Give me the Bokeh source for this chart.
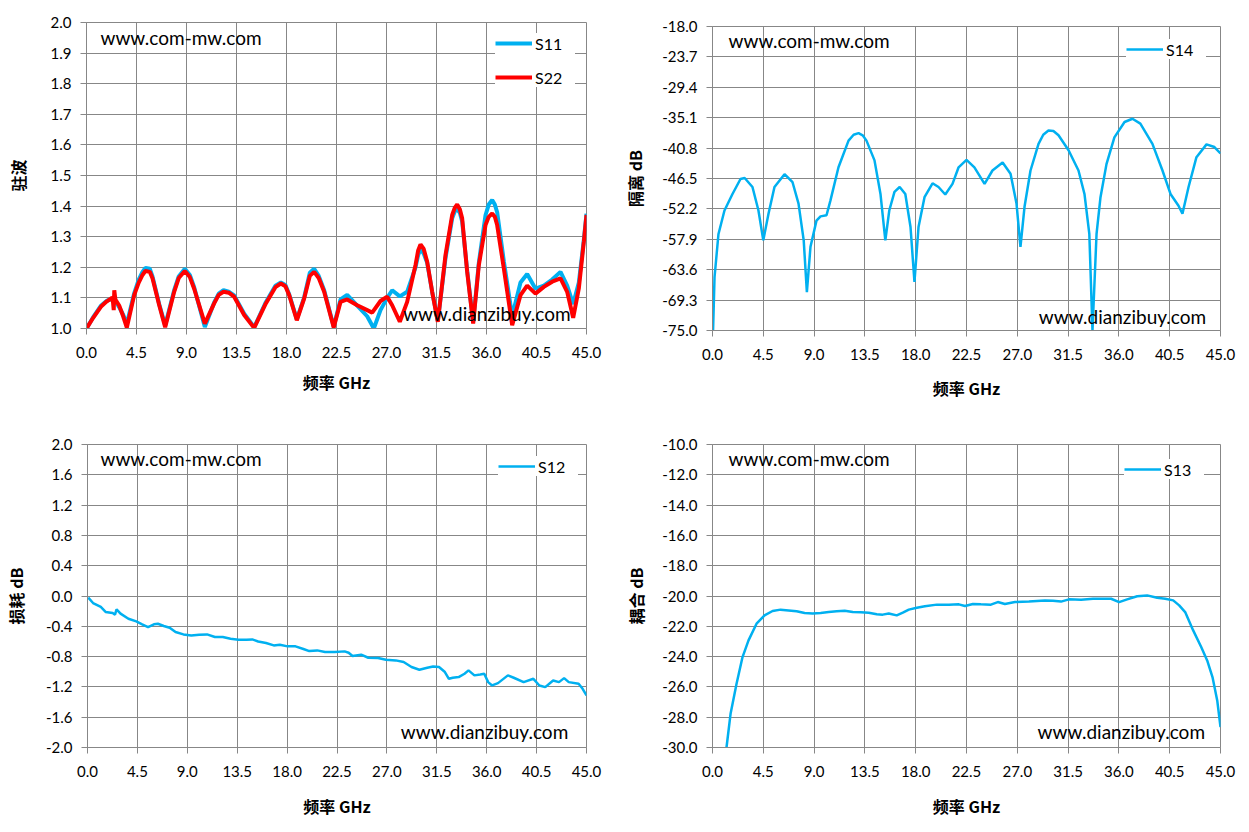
from bokeh.plotting import figure
from bokeh.layouts import row, column
from bokeh.models import FixedTicker, Legend, LegendItem, Label, Spacer
from bokeh.embed import file_html
from bokeh.resources import INLINE

# ---------------- data ----------------
x_ticks = [0.0, 4.5, 9.0, 13.5, 18.0, 22.5, 27.0, 31.5, 36.0, 40.5, 45.0]
x_tick_labels = ["0.0", "4.5", "9.0", "13.5", "18.0", "22.5", "27.0", "31.5", "36.0", "40.5", "45.0"]

vswr_ticks = [1.0, 1.1, 1.2, 1.3, 1.4, 1.5, 1.6, 1.7, 1.8, 1.9, 2.0]
vswr_tick_labels = ["1.0", "1.1", "1.2", "1.3", "1.4", "1.5", "1.6", "1.7", "1.8", "1.9", "2.0"]

iso_ticks = [-75.0, -69.3, -63.6, -57.9, -52.2, -46.5, -40.8, -35.1, -29.4, -23.7, -18.0]
iso_tick_labels = ["-75.0", "-69.3", "-63.6", "-57.9", "-52.2", "-46.5", "-40.8", "-35.1", "-29.4", "-23.7", "-18.0"]

loss_ticks = [-2.0, -1.6, -1.2, -0.8, -0.4, 0.0, 0.4, 0.8, 1.2, 1.6, 2.0]
loss_tick_labels = ["-2.0", "-1.6", "-1.2", "-0.8", "-0.4", "0.0", "0.4", "0.8", "1.2", "1.6", "2.0"]

cpl_ticks = [-30.0, -28.0, -26.0, -24.0, -22.0, -20.0, -18.0, -16.0, -14.0, -12.0, -10.0]
cpl_tick_labels = ["-30.0", "-28.0", "-26.0", "-24.0", "-22.0", "-20.0", "-18.0", "-16.0", "-14.0", "-12.0", "-10.0"]

s11_freq = [0.0, 0.6, 1.29, 1.8, 2.19, 2.6, 2.94, 3.3, 3.63, 4.29,
            4.7, 5.04, 5.3, 5.7, 5.94, 6.54, 7.08, 7.89, 8.3, 8.85,
            9.3, 9.69, 10.65, 11.49, 11.9, 12.33, 12.8, 13.29, 14.19, 15.09,
            16.14, 17.0, 17.49, 17.9, 18.24, 18.93, 19.59, 20.1, 20.49, 20.9,
            21.39, 22.25, 22.86, 23.46, 24.36, 25.26, 25.86, 26.46, 27.06, 27.51,
            28.2, 28.86, 29.61, 29.85, 30.06, 30.35, 30.66, 31.11, 31.62, 32.31,
            32.91, 33.15, 33.36, 33.6, 33.81, 34.26, 34.8, 35.31, 35.91, 36.2,
            36.51, 36.75, 36.96, 37.56, 38.31, 39.06, 39.66, 40.41, 41.16, 41.91,
            42.66, 43.26, 43.8, 44.31, 44.76, 45.0]
s11_vswr = [1.0, 1.037, 1.074, 1.09, 1.096, 1.09, 1.07, 1.045, 1.015, 1.115,
            1.16, 1.185, 1.198, 1.195, 1.17, 1.08, 1.01, 1.125, 1.17, 1.195,
            1.175, 1.135, 1.005, 1.085, 1.114, 1.125, 1.12, 1.108, 1.048, 1.004,
            1.086, 1.14, 1.15, 1.142, 1.112, 1.03, 1.102, 1.182, 1.195, 1.172,
            1.125, 1.006, 1.095, 1.11, 1.075, 1.04, 1.0, 1.06, 1.10, 1.125,
            1.105, 1.12, 1.2, 1.24, 1.258, 1.245, 1.215, 1.12, 1.025, 1.23,
            1.36, 1.383, 1.39, 1.378, 1.35, 1.19, 1.02, 1.215, 1.37, 1.405,
            1.42, 1.405, 1.38, 1.22, 1.04, 1.15, 1.178, 1.13, 1.14, 1.16,
            1.185, 1.14, 1.08, 1.15, 1.29, 1.375]

s22_freq = [0.0, 0.6, 1.29, 1.8, 2.19, 2.35, 2.45, 2.5, 2.6, 2.94,
            3.3, 3.63, 4.29, 4.7, 5.04, 5.3, 5.7, 5.94, 6.54, 7.08,
            7.89, 8.3, 8.85, 9.3, 9.69, 10.65, 11.49, 11.9, 12.33, 12.8,
            13.29, 14.19, 15.09, 16.14, 17.0, 17.49, 17.9, 18.24, 18.93, 19.59,
            20.1, 20.49, 20.9, 21.39, 22.25, 22.86, 23.46, 24.36, 25.26, 25.71,
            26.46, 27.06, 27.51, 28.2, 28.86, 29.61, 29.85, 30.06, 30.35, 30.66,
            31.11, 31.62, 32.31, 32.91, 33.15, 33.36, 33.6, 33.81, 34.26, 34.8,
            35.31, 35.91, 36.2, 36.51, 36.75, 36.96, 37.56, 38.31, 39.06, 39.66,
            40.41, 41.16, 41.91, 42.66, 43.26, 43.8, 44.31, 44.76, 45.0]
s22_vswr = [1.0, 1.035, 1.071, 1.088, 1.098, 1.10, 1.06, 1.125, 1.095, 1.075,
            1.04, 1.003, 1.109, 1.15, 1.175, 1.188, 1.185, 1.164, 1.077, 1.004,
            1.12, 1.165, 1.188, 1.168, 1.13, 1.016, 1.082, 1.11, 1.12, 1.117,
            1.104, 1.044, 1.002, 1.082, 1.135, 1.147, 1.138, 1.109, 1.027, 1.098,
            1.172, 1.185, 1.165, 1.12, 1.003, 1.087, 1.095, 1.076, 1.06, 1.052,
            1.09, 1.104, 1.076, 1.022, 1.087, 1.207, 1.255, 1.275, 1.26, 1.218,
            1.12, 1.022, 1.24, 1.371, 1.395, 1.405, 1.39, 1.36, 1.185, 1.016,
            1.207, 1.338, 1.365, 1.376, 1.365, 1.338, 1.196, 1.011, 1.109, 1.14,
            1.114, 1.136, 1.153, 1.164, 1.12, 1.035, 1.131, 1.283, 1.371]

s14_freq = [0.05, 0.18, 0.53, 1.06, 1.77, 2.48, 2.85, 3.54, 4.07, 4.5,
            4.96, 5.49, 6.38, 7.09, 7.62, 8.08, 8.36, 8.68, 9.21, 9.57,
            10.1, 10.45, 11.16, 12.05, 12.5, 12.94, 13.3, 13.64, 14.35, 14.88,
            15.31, 15.66, 16.12, 16.58, 17.08, 17.54, 17.89, 18.25, 18.78, 19.49,
            20.02, 20.62, 21.26, 21.8, 22.5, 23.2, 24.1, 24.8, 25.7, 26.4,
            26.93, 27.28, 27.64, 28.17, 28.88, 29.3, 29.76, 30.2, 30.65, 31.54,
            32.42, 32.95, 33.38, 33.66, 34.02, 34.37, 34.9, 35.6, 36.5, 37.2,
            37.9, 38.97, 39.86, 40.57, 41.28, 41.63, 42.17, 42.87, 43.76, 44.46,
            45.0]
s14_db = [-75.0, -65.0, -56.9, -52.5, -49.4, -46.6, -46.4, -48.1, -52.5, -58.1,
          -53.1, -48.1, -45.7, -47.2, -51.2, -58.1, -67.8, -59.3, -54.4, -53.6,
          -53.4, -50.6, -44.4, -39.4, -38.3, -38.0, -38.4, -39.4, -43.1, -49.4,
          -58.1, -52.5, -49.0, -48.1, -49.4, -55.6, -65.9, -55.6, -50.0, -47.4,
          -48.1, -49.5, -47.5, -44.4, -43.0, -44.4, -47.5, -45.0, -43.5, -45.6,
          -51.2, -59.3, -51.8, -45.0, -40.0, -38.3, -37.5, -37.6, -38.4, -41.2,
          -45.0, -49.4, -56.9, -75.0, -56.9, -50.0, -43.8, -38.8, -35.9, -35.3,
          -36.2, -40.0, -45.0, -49.4, -51.6, -53.1, -48.1, -42.5, -40.1, -40.6,
          -41.8]

s12_freq = [0.07, 0.5, 1.2, 1.63, 2.27, 2.48, 2.62, 2.98, 3.69, 4.4,
            4.93, 5.46, 5.99, 6.35, 6.88, 7.41, 7.94, 8.65, 9.36, 10.07,
            10.78, 11.49, 12.2, 12.9, 13.62, 14.33, 14.86, 15.39, 16.1, 16.8,
            17.34, 18.05, 18.76, 19.47, 20.0, 20.71, 21.42, 22.3, 23.19, 23.55,
            23.9, 24.68, 25.32, 26.2, 26.91, 27.8, 28.51, 29.22, 29.93, 30.64,
            31.17, 31.7, 32.23, 32.59, 32.94, 33.47, 34.0, 34.36, 34.89, 35.42,
            35.78, 36.13, 36.49, 37.02, 37.91, 38.44, 39.33, 40.21, 40.75, 41.28,
            41.99, 42.52, 42.98, 43.4, 44.29, 44.65, 45.0]
s12_db = [-0.022, -0.093, -0.145, -0.21, -0.225, -0.247, -0.176, -0.233, -0.30, -0.335,
          -0.374, -0.41, -0.374, -0.366, -0.396, -0.419, -0.476, -0.507, -0.52, -0.511,
          -0.507, -0.542, -0.542, -0.564, -0.577, -0.577, -0.573, -0.60, -0.621, -0.652,
          -0.643, -0.665, -0.665, -0.70, -0.727, -0.718, -0.74, -0.74, -0.731, -0.749,
          -0.793, -0.775, -0.815, -0.819, -0.841, -0.85, -0.872, -0.938, -0.974, -0.947,
          -0.93, -0.938, -1.004, -1.093, -1.08, -1.07, -1.026, -0.982, -1.048, -1.035,
          -1.026, -1.137, -1.181, -1.15, -1.048, -1.079, -1.137, -1.093, -1.181, -1.203,
          -1.115, -1.137, -1.084, -1.137, -1.159, -1.225, -1.313]

s13_freq = [1.24, 1.6, 2.13, 2.66, 3.19, 3.9, 4.61, 5.32, 6.03, 6.74,
            7.45, 8.16, 8.87, 9.58, 10.29, 11.0, 11.71, 12.42, 13.13, 13.84,
            14.55, 15.08, 15.61, 16.32, 16.86, 17.39, 18.1, 18.81, 19.87, 20.94,
            21.82, 22.36, 23.07, 23.78, 24.66, 25.27, 25.9, 26.79, 28.03, 29.45,
            30.16, 30.87, 31.58, 32.65, 33.71, 34.42, 35.31, 36.02, 36.73, 37.62,
            38.5, 39.39, 40.1, 40.81, 41.34, 41.87, 42.58, 43.29, 43.82, 44.29,
            44.71, 45.0]
s13_db = [-30.0, -27.78, -25.79, -24.03, -22.93, -21.83, -21.28, -20.99, -20.9, -20.95,
          -21.01, -21.12, -21.15, -21.12, -21.06, -21.01, -20.97, -21.06, -21.08, -21.1,
          -21.21, -21.23, -21.15, -21.28, -21.1, -20.9, -20.77, -20.68, -20.57, -20.57,
          -20.55, -20.66, -20.53, -20.55, -20.57, -20.4, -20.53, -20.4, -20.37, -20.29,
          -20.31, -20.37, -20.22, -20.24, -20.18, -20.18, -20.18, -20.4, -20.22, -20.02,
          -19.96, -20.11, -20.18, -20.29, -20.62, -21.06, -22.27, -23.37, -24.25, -25.35,
          -26.89, -28.65]

for a, b in [(s11_freq, s11_vswr), (s22_freq, s22_vswr), (s14_freq, s14_db),
             (s12_freq, s12_db), (s13_freq, s13_db)]:
    assert len(a) == len(b)

# ---------------- styling ----------------
GRID = "#878787"
BLUE = "#00B0F0"
RED = "#FF0000"
TICK_FONT = "Lato"
TITLE_FONT = "Noto Sans CJK SC"


def make_fig(width, height, yrange, yticks, ylabels, ytitle,
             mbl, mbr, mbt, mbb, ystand, xstand):
    p = figure(width=width, height=height, x_range=(0, 45), y_range=yrange,
               title=None, output_backend="svg", toolbar_location=None,
               min_border_left=mbl, min_border_right=mbr,
               min_border_top=mbt, min_border_bottom=mbb)
    p.background_fill_color = "white"
    p.border_fill_color = "white"
    p.outline_line_color = GRID
    p.outline_line_width = 1

    p.xaxis.ticker = FixedTicker(ticks=x_ticks)
    p.xaxis.major_label_overrides = dict(zip(x_ticks, x_tick_labels))
    p.yaxis.ticker = FixedTicker(ticks=yticks)
    p.yaxis.major_label_overrides = dict(zip(yticks, ylabels))

    for ax in (p.xaxis[0], p.yaxis[0]):
        ax.axis_line_color = GRID
        ax.axis_line_width = 1
        ax.major_tick_line_color = GRID
        ax.major_tick_out = 6
        ax.major_tick_in = 0
        ax.minor_tick_line_color = None
        ax.major_label_text_font = TICK_FONT
        ax.major_label_text_font_size = "15px"
        ax.major_label_text_color = "#000000"
        ax.axis_label_text_font = TITLE_FONT
        ax.axis_label_text_font_style = "bold"
        ax.axis_label_text_font_size = "16px"
        ax.axis_label_text_color = "#000000"

    p.yaxis.major_label_standoff = 9
    p.xaxis.major_label_standoff = 12
    p.xaxis.axis_label = "频率 GHz"
    p.xaxis.axis_label_standoff = xstand
    p.yaxis.axis_label = ytitle
    p.yaxis.axis_label_standoff = ystand

    p.xgrid.ticker = FixedTicker(ticks=x_ticks)
    p.ygrid.ticker = FixedTicker(ticks=yticks)
    for g in (p.xgrid[0], p.ygrid[0]):
        g.grid_line_color = GRID
        g.grid_line_width = 1
        g.grid_line_alpha = 1.0
    return p


def add_legend(p, items, loc):
    leg = Legend(items=items, location=loc,
                 label_text_font=TICK_FONT, label_text_font_size="16px",
                 label_text_color="#000000",
                 glyph_width=37, glyph_height=20, label_height=20,
                 label_standoff=3, label_width=40, spacing=14, padding=6,
                 margin=0, border_line_color=None,
                 background_fill_color="white", background_fill_alpha=1.0)
    p.add_layout(leg)


def add_marks(p, x1, y1, x2, y2):
    for x, y, t in [(x1, y1, "www.com-mw.com"), (x2, y2, "www.dianzibuy.com")]:
        p.add_layout(Label(x=x, y=y, text=t, text_font=TICK_FONT,
                           text_font_size="19px", text_color="#000000",
                           text_baseline="middle", text_align="left"))


# Panel 1: VSWR
p1 = make_fig(620, 410, (1.0, 2.0), vswr_ticks, vswr_tick_labels, "驻波",
              86, 34, 22, 82, 18, 9)
r11 = p1.line(s11_freq, s11_vswr, line_color=BLUE, line_width=4)
r22 = p1.line(s22_freq, s22_vswr, line_color=RED, line_width=4)
add_legend(p1, [LegendItem(label="S11", renderers=[r11]),
                LegendItem(label="S22", renderers=[r22])], (409, 241))
add_marks(p1, 1.26, 1.951, 28.5, 1.049)

# Panel 2: isolation (shifted down 4px by a spacer)
p2 = make_fig(620, 406, (-75.0, -18.0), iso_ticks, iso_tick_labels, "隔离 dB",
              92, 20, 22, 80, 12, 13)
r14 = p2.line(s14_freq, s14_db, line_color=BLUE, line_width=2.5)
add_legend(p2, [LegendItem(label="S14", renderers=[r14])], (414, 271))
add_marks(p2, 1.42, -20.6, 28.9, -72.4)

# Panel 3: loss
p3 = make_fig(620, 416, (-2.0, 2.0), loss_ticks, loss_tick_labels, "损耗 dB",
              86, 34, 34, 79, 15, 14)
r12 = p3.line(s12_freq, s12_db, line_color=BLUE, line_width=2.5)
add_legend(p3, [LegendItem(label="S12", renderers=[r12])], (411, 271))
add_marks(p3, 1.17, 1.815, 28.26, -1.79)

# Panel 4: coupling
p4 = make_fig(620, 416, (-30.0, -10.0), cpl_ticks, cpl_tick_labels, "耦合 dB",
              92, 20, 34, 79, 11, 14)
r13 = p4.line(s13_freq, s13_db, line_color=BLUE, line_width=2.5)
add_legend(p4, [LegendItem(label="S13", renderers=[r13])], (412, 268))
add_marks(p4, 1.42, -10.92, 28.8, -28.94)

right_top = column(Spacer(width=620, height=4), p2, spacing=0)
layout = column(row(p1, right_top, spacing=0), row(p3, p4, spacing=0), spacing=0)

open("out.html", "w").write(file_html(layout, INLINE))
